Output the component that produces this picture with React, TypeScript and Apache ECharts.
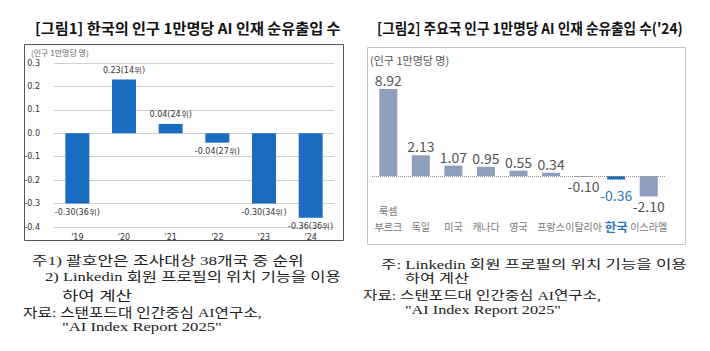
import React, { useEffect, useRef } from "react";
import * as echarts from "echarts";

const leftYears = ["'19", "'20", "'21", "'22", "'23", "'24"];
const leftValues = [-0.3, 0.23, 0.04, -0.04, -0.3, -0.36];
const leftRanks = [36, 14, 24, 27, 34, 36];

const countries = ["룩셈\n부르크", "독일", "미국", "캐나다", "영국", "프랑스", "이탈리아", "한국", "이스라엘"];
const countryValues = [8.92, 2.13, 1.07, 0.95, 0.55, 0.34, -0.1, -0.36, -2.1];
const highlightCountry = "한국";

const leftTitle = "[그림1] 한국의 인구 1만명당 AI 인재 순유출입 수";
const rightTitle = "[그림2] 주요국 인구 1만명당 AI 인재 순유출입 수('24)";
const unitText = "(인구 1만명당 명)";

const leftNotes = [
  "주1) 괄호안은 조사대상 38개국 중 순위",
  "2) Linkedin 회원 프로필의 위치 기능을 이용",
  "하여 계산",
  "자료: 스탠포드대 인간중심 AI연구소,",
  "\"AI Index Report 2025\"",
];
const rightNotes = [
  "주: Linkedin 회원 프로필의 위치 기능을 이용",
  "하여 계산",
  "자료: 스탠포드대 인간중심 AI연구소,",
  "\"AI Index Report 2025\"",
];

const KR = "'Noto Sans CJK KR', 'Noto Sans', sans-serif";
const SERIF = "'Liberation Serif', 'Noto Sans CJK KR', serif";
const NARROW = "'Liberation Sans Narrow', 'Noto Sans CJK KR', sans-serif";

export default function App() {
  const ref = useRef<HTMLDivElement>(null);
  useEffect(() => {
    if (!ref.current) return;
    const chart = echarts.init(ref.current, null, { renderer: "svg" });

    const ctx = document.createElement("canvas").getContext("2d");
    const fit = (text: string, font: string, w: number) => {
      if (!ctx) return 1;
      ctx.font = font;
      const m = ctx.measureText(text).width;
      return m > 0 ? w / m : 1;
    };

    // [x, y, target width]
    const leftLayout = [[32, 260, 272], [45, 277, 296], [62, 295, 70], [23, 312, 239], [62, 327, 160]];
    const rightLayout = [[381, 265, 306], [405, 279, 64], [363, 296, 238], [405, 310, 156]];

    const noteEls: any[] = [];
    const lf = `13px ${SERIF}`;
    const rf = `12.5px ${SERIF}`;
    leftNotes.forEach((t, i) =>
      noteEls.push({
        type: "text",
        x: leftLayout[i][0],
        y: leftLayout[i][1],
        scaleX: fit(t, lf, leftLayout[i][2]),
        style: { text: t, font: lf, fill: "#222", textVerticalAlign: "middle" },
      })
    );
    rightNotes.forEach((t, i) =>
      noteEls.push({
        type: "text",
        x: rightLayout[i][0],
        y: rightLayout[i][1],
        scaleX: fit(t, rf, rightLayout[i][2]),
        style: { text: t, font: rf, fill: "#222", textVerticalAlign: "middle" },
      })
    );

    const tf = `bold 15px ${KR}`;

    const option: any = {
      animation: false,
      backgroundColor: "#ffffff",
      grid: [
        { left: 54, right: 376, top: 63, bottom: 124, containLabel: false },
        { left: 372, right: 45, top: 83.4, bottom: 150.6, containLabel: false },
      ],
      xAxis: [
        {
          type: "category",
          gridIndex: 0,
          data: leftYears,
          axisLine: { show: false, onZero: false },
          axisTick: { show: false },
          axisLabel: { margin: 6, fontSize: 8, color: "#333", fontFamily: "'DejaVu Sans', sans-serif" },
        },
        {
          type: "category",
          gridIndex: 1,
          data: countries,
          axisLine: { show: false, onZero: false },
          axisTick: { show: false },
          axisLabel: {
            margin: 34,
            verticalAlign: "bottom",
            interval: 0,
            fontSize: 10,
            lineHeight: 16,
            color: "#777",
            fontFamily: KR,
            formatter: (v: string) => (v === highlightCountry ? `{kr|${v}}` : v),
            rich: {
              kr: { fontSize: 12.5, fontWeight: "bold", color: "#2a78c0", fontFamily: KR, lineHeight: 16 },
            },
          },
        },
      ],
      yAxis: [
        {
          type: "value",
          gridIndex: 0,
          min: -0.4,
          max: 0.3,
          interval: 0.1,
          axisLine: { show: false },
          axisTick: { show: false },
          splitLine: { lineStyle: { color: "#d0d0d0", width: 1 } },
          axisLabel: {
            margin: 14,
            fontSize: 8,
            color: "#333",
            fontFamily: "'DejaVu Sans', sans-serif",
            formatter: (v: number) => (Math.abs(v) < 1e-9 ? "0.0" : v.toFixed(1)),
          },
        },
        {
          type: "value",
          gridIndex: 1,
          min: -2.5,
          max: 9.5,
          show: false,
          splitLine: { show: false },
        },
      ],
      series: [
        {
          type: "bar",
          xAxisIndex: 0,
          yAxisIndex: 0,
          barWidth: 24,
          itemStyle: { color: "#1a6cc0" },
          data: leftValues.map((v, i) => ({
            value: v,
            label: {
              show: true,
              position: v >= 0 ? "top" : "bottom",
              distance: 5,
              fontSize: 8,
              color: "#333",
              fontFamily: "'DejaVu Sans', sans-serif",
              formatter: () => `${v.toFixed(2)}(${leftRanks[i]}위)`,
            },
          })),
        },
        {
          type: "bar",
          xAxisIndex: 1,
          yAxisIndex: 1,
          barWidth: 18,
          data: countryValues.map((v, i) => {
            const hl = countries[i] === highlightCountry;
            return {
              value: v,
              itemStyle: { color: hl ? "#1f6db5" : "#8e9fbd" },
              label: {
                show: true,
                position: v >= 0 ? "top" : "bottom",
                distance: hl ? 8 : 2,
                fontSize: 14,
                color: hl ? "#2a78c0" : "#555",
                fontFamily: NARROW,
                formatter: () => v.toFixed(2),
              },
            };
          }),
          markLine: {
            silent: true,
            symbol: "none",
            label: { show: false },
            lineStyle: { color: "#999", type: "dotted", width: 1 },
            data: [{ yAxis: 0 }],
          },
        },
      ],
      graphic: [
        {
          type: "rect",
          shape: { x: 24.5, y: 44.5, width: 319, height: 196 },
          style: { fill: "none", stroke: "#555", lineWidth: 1 },
          z: -1,
        },
        {
          type: "rect",
          shape: { x: 367.5, y: 47.5, width: 318, height: 197 },
          style: { fill: "none", stroke: "#c4c4c4", lineWidth: 1 },
          z: -1,
        },
        {
          type: "text",
          x: 35,
          y: 27,
          scaleX: fit(leftTitle, tf, 306),
          style: { text: leftTitle, font: tf, fill: "#111", textVerticalAlign: "middle" },
        },
        {
          type: "text",
          x: 377,
          y: 27,
          scaleX: fit(rightTitle, tf, 306),
          style: { text: rightTitle, font: tf, fill: "#111", textVerticalAlign: "middle" },
        },
        {
          type: "text",
          x: 31,
          y: 52,
          style: { text: unitText, font: `8px ${KR}`, fill: "#666", textVerticalAlign: "middle" },
        },
        {
          type: "text",
          x: 370,
          y: 60,
          style: { text: unitText, font: `11px ${KR}`, fill: "#555", textVerticalAlign: "middle" },
        },
        ...noteEls,
      ],
    };
    chart.setOption(option);
    return () => chart.dispose();
  }, []);
  return <div ref={ref} style={{ width: 710, height: 351, position: "absolute", left: 0, top: 0 }} />;
}
